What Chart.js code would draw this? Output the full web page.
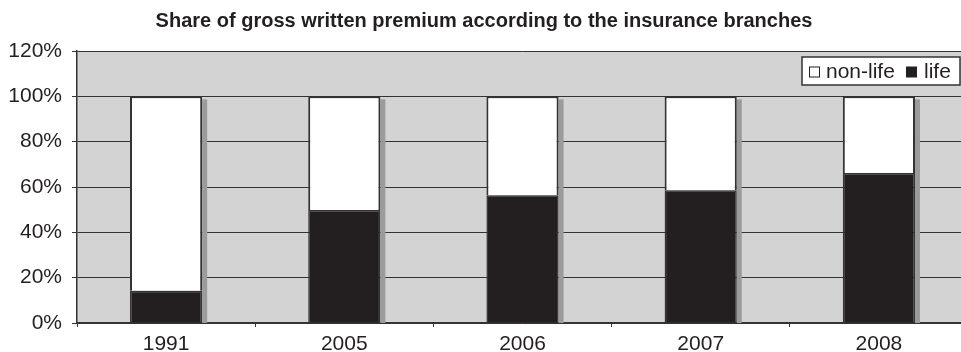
<!DOCTYPE html>
<html>
<head>
<meta charset="utf-8">
<script src="https://cdn.jsdelivr.net/npm/chart.js@4"></script>
<style>
  html, body { margin: 0; padding: 0; background: #fff; overflow: hidden; }
  #wrap { width: 980px; height: 352px; }
</style>
</head>
<body>
<div id="wrap"><canvas id="premiumChart" width="980" height="352"></canvas></div>
<script>
const years = ['1991', '2005', '2006', '2007', '2008'];
const lifeShare = [0.142, 0.498, 0.564, 0.586, 0.662];
const nonLifeShare = [0.858, 0.502, 0.436, 0.414, 0.338];
const yTicks = [0, 0.2, 0.4, 0.6, 0.8, 1.0, 1.2];

const FONT = "'Liberation Sans', Arial, sans-serif";

// grey plot background
const plotBg = {
    id: 'plotBg',
    beforeDraw(chart) {
        const { ctx, chartArea: a } = chart;
        ctx.save();
        ctx.fillStyle = '#d3d3d4';
        ctx.fillRect(a.left, a.top, a.right - a.left, a.bottom - a.top);
        ctx.restore();
    }
};

// grey shadow on the right side of each bar
const barShadow = {
    id: 'barShadow',
    beforeDatasetsDraw(chart) {
        const { ctx } = chart;
        const top = chart.getDatasetMeta(1).data;
        const base = chart.scales.y.getPixelForValue(0);
        ctx.save();
        ctx.fillStyle = '#9b9b9c';
        top.forEach(bar => {
            const right = bar.x + bar.width / 2;
            ctx.fillRect(right, bar.y + 3, 5, base - bar.y - 3);
        });
        ctx.restore();
    }
};

// boxed legend inside the plot, top right
const boxLegend = {
    id: 'boxLegend',
    afterDraw(chart) {
        const { ctx } = chart;
        const x = 802, y = 57, w = 158, h = 28;
        ctx.save();
        ctx.fillStyle = '#fff';
        ctx.fillRect(x, y, w, h);
        ctx.strokeStyle = '#333';
        ctx.lineWidth = 1.5;
        ctx.strokeRect(x, y, w, h);
        ctx.font = '21px ' + FONT;
        ctx.textBaseline = 'middle';
        const cy = y + h / 2 + 1;
        // non-life
        ctx.fillStyle = '#fff';
        ctx.strokeStyle = '#231f20';
        ctx.lineWidth = 1;
        ctx.fillRect(x + 7, cy - 5.5, 11, 11);
        ctx.strokeRect(x + 7.5, cy - 5, 10, 10);
        ctx.fillStyle = '#231f20';
        ctx.fillText('non-life', x + 24, cy);
        // life
        ctx.fillRect(x + 104, cy - 5.5, 11, 11);
        ctx.fillText('life', x + 122, cy);
        ctx.restore();
    }
};

const ctx = document.getElementById('premiumChart').getContext('2d');
new Chart(ctx, {
    type: 'bar',
    data: {
        labels: years,
        datasets: [
            {
                label: 'life',
                data: lifeShare,
                backgroundColor: '#231f20',
                borderColor: '#333',
                borderWidth: 1.5,
                categoryPercentage: 1,
                barPercentage: 0.405
            },
            {
                label: 'non-life',
                data: nonLifeShare,
                backgroundColor: '#ffffff',
                borderColor: '#333',
                borderWidth: 2,
                categoryPercentage: 1,
                barPercentage: 0.405
            }
        ]
    },
    options: {
        responsive: false,
        animation: false,
        layout: { padding: { top: 0, right: 12, bottom: 0, left: 0 } },
        plugins: {
            legend: { display: false },
            tooltip: { enabled: false },
            title: {
                display: true,
                text: 'Share of gross written premium according to the insurance branches',
                color: '#231f20',
                font: { family: FONT, size: 20, weight: 'bold', lineHeight: 1.2 },
                padding: { top: 9, bottom: 18 }
            }
        },
        scales: {
            x: {
                stacked: true,
                offset: true,
                afterFit(axis) { axis.height = 29; },
                grid: {
                    display: true,
                    offset: true,
                    drawOnChartArea: false,
                    color: '#333',
                    tickLength: 4
                },
                border: { color: '#333', width: 1.5 },
                ticks: {
                    color: '#231f20',
                    font: { family: FONT, size: 21 },
                    padding: 5
                }
            },
            y: {
                stacked: true,
                min: 0,
                max: 1.2,
                afterFit(axis) { axis.width = 77; },
                afterBuildTicks(axis) {
                    axis.ticks = yTicks.map(v => ({ value: v }));
                },
                grid: {
                    color: '#333',
                    lineWidth: 1,
                    tickLength: 5
                },
                border: { color: '#333', width: 1.5 },
                ticks: {
                    color: '#231f20',
                    font: { family: FONT, size: 21 },
                    padding: 10,
                    callback: v => Math.round(v * 100) + '%'
                }
            }
        }
    },
    plugins: [plotBg, barShadow, boxLegend]
});
</script>
</body>
</html>
